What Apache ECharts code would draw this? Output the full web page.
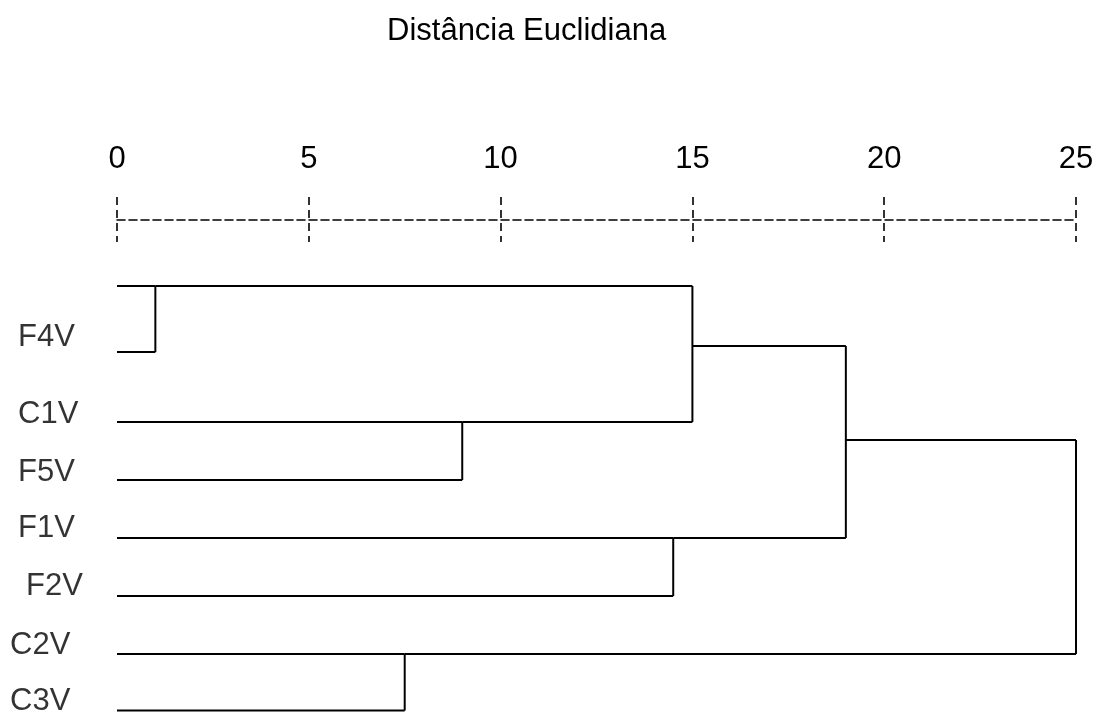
<!DOCTYPE html>
<html>
<head>
<meta charset="utf-8">
<script src="https://cdn.jsdelivr.net/npm/echarts@6/dist/echarts.min.js"></script>
<style>
html,body{margin:0;padding:0;background:#fff;}
#c{width:1108px;height:716px;}
</style>
</head>
<body>
<div id="c"></div>
<script>
// ---- data ----
const titleText = 'Distância Euclidiana';
const tickValues = [0, 5, 10, 15, 20, 25];
const leafNames = ['', 'F4V', 'C1V', 'F5V', 'F1V', 'F2V', 'C2V', 'C3V'];
const leafRows = [0, 1.14, 2.345, 3.345, 4.345, 5.345, 6.345, 7.32];
// merges: child A, child B (index < 8 = leaf, 8+k = merge k), height, row where the merged node is drawn
const mergeA = [0, 2, 8, 4, 10, 6, 12];
const mergeB = [1, 3, 9, 5, 11, 7, 13];
const mergeHeights = [1.0, 9.0, 15.0, 14.5, 19.0, 7.5, 25.0];
const mergeRows = [0, 2.345, 1.035, 4.345, 2.655, 6.345, 4.5];

// ---- styling (label nudges, px) ----
const labelDx = [0, -99, -99, -99, -99, -91, -107, -107];
const labelDy = [0, -15, -8, -8, -10, -10, -9, -9.5];

const FONT = 'Liberation Sans, Arial, sans-serif';
const nLeaf = leafNames.length;
function nodeRow(i) { return i < nLeaf ? leafRows[i] : mergeRows[i - nLeaf]; }
function nodeH(i) { return i < nLeaf ? 0 : mergeHeights[i - nLeaf]; }

const segs = [];
for (let k = 0; k < mergeHeights.length; k++) {
  const h = mergeHeights[k];
  [mergeA[k], mergeB[k]].forEach(c => {
    segs.push([nodeH(c), nodeRow(c), h, nodeRow(c)]);
  });
  segs.push([h, nodeRow(mergeA[k]), h, nodeRow(mergeB[k])]);
}

const leafPts = leafNames.map((n, i) => ({
  value: [0, leafRows[i]],
  name: n,
  label: { position: [labelDx[i], labelDy[i]], color: '#000' }
}));

const chart = echarts.init(document.getElementById('c'), null, { renderer: 'canvas' });
chart.setOption({
  animation: false,
  backgroundColor: '#fff',
  title: {
    text: titleText,
    left: 382, top: 11,
    textStyle: { fontFamily: FONT, fontSize: 31, fontWeight: 'normal', color: '#000' }
  },
  grid: [
    { left: 117, right: 32, top: 197, height: 45 },
    { left: 117, right: 32, top: 286, bottom: 5.5 }
  ],
  xAxis: [
    {
      gridIndex: 0, type: 'value', position: 'top',
      min: tickValues[0], max: tickValues[tickValues.length - 1], interval: tickValues[1] - tickValues[0],
      axisLine: { show: false }, axisTick: { show: false },
      axisLabel: { fontFamily: FONT, fontSize: 31, color: '#000', margin: 22 },
      splitLine: { show: true, lineStyle: { color: '#000', width: 1.6, type: [8, 5] } }
    },
    {
      gridIndex: 0, type: 'value', position: 'bottom', offset: -22.5,
      min: 0, max: 25,
      axisLine: { show: true, lineStyle: { color: '#000', width: 1.6, type: [8, 4] } },
      axisTick: { show: false }, axisLabel: { show: false }, splitLine: { show: false }
    },
    {
      gridIndex: 1, type: 'value', min: 0, max: 25, show: false
    }
  ],
  yAxis: [
    { gridIndex: 0, type: 'value', min: 0, max: 1, show: false },
    { gridIndex: 1, type: 'value', min: 0, max: leafRows[leafRows.length - 1], inverse: true, show: false }
  ],
  series: [
    {
      type: 'custom', xAxisIndex: 2, yAxisIndex: 1, clip: false,
      data: segs,
      renderItem: function (params, api) {
        const p1 = api.coord([api.value(0), api.value(1)]);
        const p2 = api.coord([api.value(2), api.value(3)]);
        return {
          type: 'line',
          shape: { x1: p1[0], y1: p1[1], x2: p2[0], y2: p2[1] },
          style: { stroke: '#000', lineWidth: 2 }
        };
      }
    },
    {
      type: 'scatter', xAxisIndex: 2, yAxisIndex: 1, clip: false,
      symbolSize: 0,
      data: leafPts,
      label: {
        show: true, formatter: '{b}',
        align: 'left', verticalAlign: 'middle',
        fontFamily: FONT, fontSize: 31, color: '#000'
      }
    }
  ]
});
</script>
</body>
</html>
